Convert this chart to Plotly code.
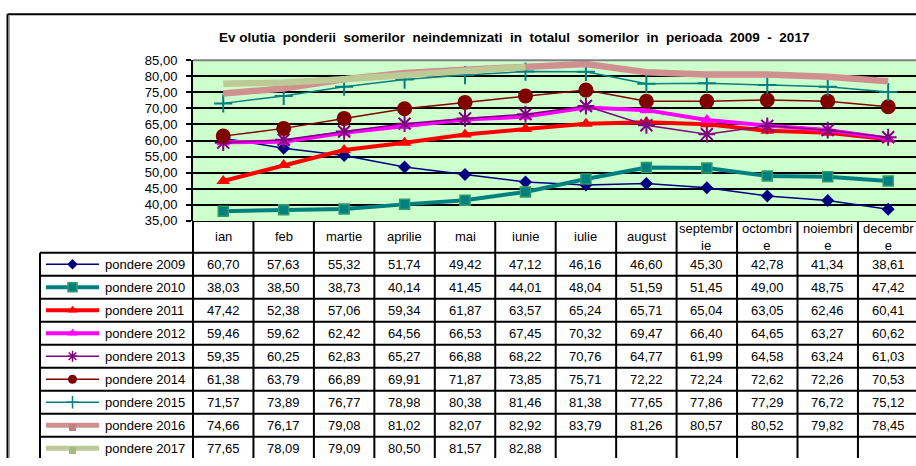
import plotly.graph_objects as go

# ---------------- data ----------------
months = ["ian", "feb", "martie", "aprilie", "mai", "iunie", "iulie", "august",
          "septembr<br>ie", "octombri<br>e", "noiembri<br>e", "decembr<br>e"]

series_names = ["pondere 2009", "pondere 2010", "pondere 2011", "pondere 2012",
                "pondere 2013", "pondere 2014", "pondere 2015", "pondere 2016",
                "pondere 2017"]

p2009 = [60.70, 57.63, 55.32, 51.74, 49.42, 47.12, 46.16, 46.60, 45.30, 42.78, 41.34, 38.61]
p2010 = [38.03, 38.50, 38.73, 40.14, 41.45, 44.01, 48.04, 51.59, 51.45, 49.00, 48.75, 47.42]
p2011 = [47.42, 52.38, 57.06, 59.34, 61.87, 63.57, 65.24, 65.71, 65.04, 63.05, 62.46, 60.41]
p2012 = [59.46, 59.62, 62.42, 64.56, 66.53, 67.45, 70.32, 69.47, 66.40, 64.65, 63.27, 60.62]
p2013 = [59.35, 60.25, 62.83, 65.27, 66.88, 68.22, 70.76, 64.77, 61.99, 64.58, 63.24, 61.03]
p2014 = [61.38, 63.79, 66.89, 69.91, 71.87, 73.85, 75.71, 72.22, 72.24, 72.62, 72.26, 70.53]
p2015 = [71.57, 73.89, 76.77, 78.98, 80.38, 81.46, 81.38, 77.65, 77.86, 77.29, 76.72, 75.12]
p2016 = [74.66, 76.17, 79.08, 81.02, 82.07, 82.92, 83.79, 81.26, 80.57, 80.52, 79.82, 78.45]
p2017 = [77.65, 78.09, 79.09, 80.50, 81.57, 82.88]

series_values = [p2009, p2010, p2011, p2012, p2013, p2014, p2015, p2016, p2017]

title_text = "Ev olutia  ponderii  somerilor  neindemnizati  in  totalul  somerilor  in  perioada  2009  -  2017"

# ---------------- styles ----------------
styles = [
    dict(color="#000080", width=1.5, symbol="diamond", size=10, lsize=8, mline=None),
    dict(color="#008080", width=4, symbol="square", size=10, lsize=9, mline="#339966"),
    dict(color="#FF0000", width=4, symbol="triangle-up", size=12, lsize=9, mline=None),
    dict(color="#FF00FF", width=4, symbol="triangle-up", size=12, lsize=9, mline=None),
    dict(color="#800080", width=1.5, symbol="asterisk-open", size=14, lsize=9, mline="#800080"),
    dict(color="#800000", width=1.5, symbol="circle", size=15, lsize=9, mline=None),
    dict(color="#008080", width=1.5, symbol="cross-thin-open", size=13, lsize=9, mline="#008080"),
    dict(color="#D09090", width=6.5, symbol=None, size=0, lsize=7, mline=None),
    dict(color="#BCCB96", width=6.5, symbol=None, size=0, lsize=7, mline=None),
]

FONT = "Arial, Liberation Sans, sans-serif"

# ---------------- layout geometry (pixels) ----------------
W, H = 916, 466
PLOT_L, PLOT_T, PLOT_B = 193, 55, 221
COL_W = 60.45
HDR_B, ROW_H = 254, 23.75
LEG_L = 40


def xv(px):
    return -0.5 + (px - PLOT_L) / COL_W


def yv(px):
    return -0.5 + (px - HDR_B) / ROW_H


def fmt(v):
    return f"{v:.2f}".replace(".", ",")


fig = go.Figure()

# chart lines
for name, vals, st in zip(series_names, series_values, styles):
    marker = dict(color=st["color"], size=st["size"])
    if st["symbol"]:
        marker["symbol"] = st["symbol"]
    if st["mline"]:
        marker["line"] = dict(color=st["mline"], width=1.5 if st["symbol"] == "square" else 2)
    fig.add_trace(go.Scatter(
        x=list(range(len(vals))), y=vals, xaxis="x", yaxis="y",
        mode="lines+markers" if st["symbol"] else "lines",
        line=dict(color=st["color"], width=st["width"]),
        marker=marker, name=name, showlegend=False, hoverinfo="skip"))

# legend keys inside the data table
key_x0, key_x1, key_xm = xv(46), xv(99), xv(72.5)
for r, (name, st) in enumerate(zip(series_names, styles)):
    fig.add_trace(go.Scatter(
        x=[key_x0, key_x1], y=[r, r], xaxis="x2", yaxis="y2", mode="lines",
        line=dict(color=st["color"], width=min(st["width"], 5)),
        showlegend=False, hoverinfo="skip"))
    msym = st["symbol"] or "square"
    mcol = st["color"]
    if st["symbol"] is None:
        mcol = "#C08080" if r == 7 else "#A8BB80"
    mk = dict(color=mcol, size=st["lsize"], symbol=msym)
    if st["mline"]:
        mk["line"] = dict(color=st["mline"], width=1.5)
    fig.add_trace(go.Scatter(
        x=[key_xm], y=[r + (0.1 if st["symbol"] is None else 0)], xaxis="x2", yaxis="y2",
        mode="markers", marker=mk, showlegend=False, hoverinfo="skip"))

annotations = []
# title
annotations.append(dict(text="<b>" + title_text + "</b>", xref="paper", yref="paper",
                        x=514 / W, y=1 - 31 / H, xanchor="center", yanchor="middle",
                        showarrow=False, font=dict(family=FONT, size=13.5, color="#000000")))

hdr_c = (yv(PLOT_B) + (-0.5)) / 2
for c, m in enumerate(months):
    annotations.append(dict(text=m, xref="x2", yref="y2", x=c, y=hdr_c,
                            showarrow=False, font=dict(family=FONT, size=13, color="#000000")))

for r, (name, vals) in enumerate(zip(series_names, series_values)):
    annotations.append(dict(text=name, xref="x2", yref="y2", x=xv(103), y=r,
                            xanchor="left", showarrow=False,
                            font=dict(family=FONT, size=13, color="#000000")))
    for c, v in enumerate(vals):
        annotations.append(dict(text=fmt(v), xref="x2", yref="y2", x=c, y=r,
                                showarrow=False,
                                font=dict(family=FONT, size=13, color="#000000")))

shapes = []
ncol = len(months)
nrow = len(series_names)
# plot area background (green), below gridlines
shapes.append(dict(type="rect", xref="x", yref="y", x0=-0.5, x1=ncol - 0.5, y0=35, y1=85,
                   layer="below", line=dict(width=0), fillcolor="#CCFFCC"))
# table vertical lines
for k in range(ncol + 1):
    shapes.append(dict(type="line", xref="x2", yref="y2", x0=k - 0.5, x1=k - 0.5,
                       y0=yv(PLOT_B), y1=nrow - 0.5, line=dict(color="#000000", width=2)))
# legend column left border
shapes.append(dict(type="line", xref="x2", yref="y2", x0=xv(LEG_L), x1=xv(LEG_L),
                   y0=-0.5, y1=nrow - 0.5, line=dict(color="#000000", width=2)))
# table horizontal lines
for r in range(nrow + 1):
    shapes.append(dict(type="line", xref="x2", yref="y2", x0=xv(LEG_L), x1=ncol - 0.5,
                       y0=r - 0.5, y1=r - 0.5, line=dict(color="#000000", width=2)))
# header top / plot bottom
shapes.append(dict(type="line", xref="x2", yref="y2", x0=-0.5, x1=ncol - 0.5,
                   y0=yv(PLOT_B), y1=yv(PLOT_B), line=dict(color="#000000", width=2)))
# plot area top border (gray)
shapes.append(dict(type="line", xref="paper", yref="paper", x0=PLOT_L / W, x1=1,
                   y0=1 - PLOT_T / H, y1=1 - PLOT_T / H, line=dict(color="#808080", width=2)))
# outer chart frame
shapes.append(dict(type="line", xref="paper", yref="paper", x0=7.5 / W, x1=1,
                   y0=1 - 7.5 / H, y1=1 - 7.5 / H, line=dict(color="#000000", width=2)))
shapes.append(dict(type="line", xref="paper", yref="paper", x0=7.5 / W, x1=7.5 / W,
                   y0=0, y1=1 - 7.5 / H, line=dict(color="#000000", width=2)))
shapes.append(dict(type="line", xref="paper", yref="paper", x0=9.5 / W, x1=9.5 / W,
                   y0=0, y1=1 - 9 / H, line=dict(color="#B0B0B0", width=1)))

fig.update_layout(
    width=W, height=H, margin=dict(l=0, r=0, t=0, b=0),
    paper_bgcolor="#FFFFFF", plot_bgcolor="rgba(0,0,0,0)",
    separators=", ", hovermode=False, showlegend=False,
    font=dict(family=FONT, size=13, color="#000000"),
    xaxis=dict(domain=[PLOT_L / W, 1], range=[-0.5, xv(W)], showgrid=False,
               zeroline=False, showticklabels=False, ticks="", showline=False),
    yaxis=dict(domain=[1 - PLOT_B / H, 1 - PLOT_T / H], range=[35, 85], dtick=5, tick0=35,
               tickformat=".2f", showgrid=True, gridcolor="#000000", gridwidth=1.5,
               zeroline=False, showline=True, linecolor="#000000", linewidth=2,
               ticks="outside", ticklen=5, tickwidth=2, tickcolor="#000000",
               ticklabelstandoff=6, tickfont=dict(family=FONT, size=13, color="#000000")),
    xaxis2=dict(domain=[0, 1], range=[xv(0), xv(W)], visible=False),
    yaxis2=dict(domain=[0, 1 - PLOT_B / H], range=[yv(H), yv(PLOT_B)], visible=False),
    annotations=annotations, shapes=shapes,
)

fig.write_html("out.html", config={"displayModeBar": False},
               post_script="document.body.style.margin='0px';document.body.style.overflow='hidden';")
